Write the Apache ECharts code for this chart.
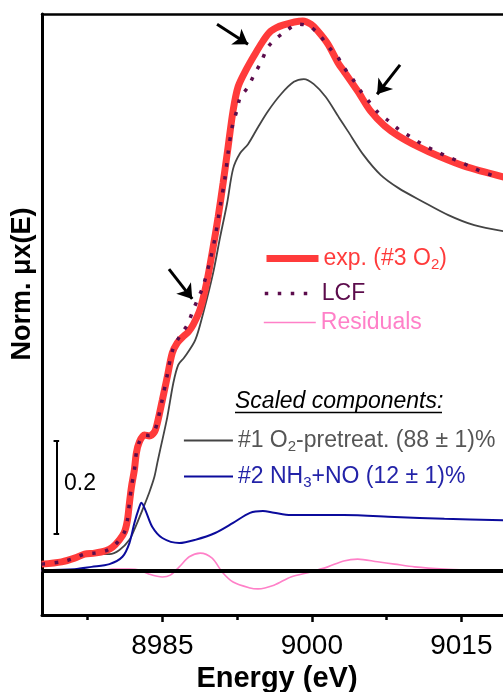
<!DOCTYPE html>
<html>
<head>
<meta charset="utf-8">
<script src="https://cdn.jsdelivr.net/npm/echarts@6/dist/echarts.min.js"></script>
<style>
html,body{margin:0;padding:0;background:#fff;}
#xanes{width:503px;height:692px;}
</style>
</head>
<body>
<div id="xanes"></div>
<script>
// energy (eV), normalized absorption
var expData = [[8972.9,0.015],[8974.9,0.020],[8976.2,0.028],[8977.2,0.037],[8978.2,0.039],[8979.3,0.044],[8980.0,0.052],[8980.7,0.068],[8981.2,0.085],[8981.5,0.111],[8981.7,0.148],[8981.9,0.183],[8982.2,0.221],[8982.4,0.258],[8982.7,0.282],[8983.2,0.297],[8983.7,0.295],[8984.2,0.303],[8984.5,0.323],[8985.0,0.373],[8985.5,0.424],[8986.0,0.476],[8986.5,0.498],[8987.0,0.510],[8987.6,0.522],[8988.1,0.538],[8988.8,0.572],[8989.5,0.635],[8990.1,0.707],[8990.6,0.773],[8991.1,0.847],[8991.6,0.926],[8992.1,1.005],[8992.6,1.057],[8993.4,1.094],[8994.2,1.125],[8995.1,1.157],[8995.9,1.179],[8997.1,1.192],[8999.1,1.201],[8999.9,1.194],[9000.6,1.179],[9001.6,1.151],[9002.7,1.107],[9003.2,1.092],[9004.6,1.048],[9005.9,1.004],[9007.3,0.972],[9008.7,0.950],[9010.7,0.926],[9012.7,0.906],[9015.3,0.884],[9019.3,0.860]];

var lcfData = [[8972.9,0.015],[8974.9,0.020],[8976.2,0.028],[8977.2,0.037],[8978.2,0.039],[8979.3,0.044],[8980.0,0.052],[8980.7,0.068],[8981.2,0.085],[8981.5,0.111],[8981.7,0.148],[8981.9,0.183],[8982.2,0.221],[8982.4,0.258],[8982.7,0.282],[8983.2,0.297],[8983.7,0.296],[8984.2,0.305],[8984.5,0.325],[8985.0,0.375],[8985.5,0.428],[8986.0,0.480],[8986.8,0.515],[8987.5,0.537],[8988.1,0.570],[8988.6,0.596],[8989.1,0.622],[8989.8,0.679],[8990.3,0.729],[8990.8,0.795],[8991.3,0.860],[8991.6,0.913],[8992.0,0.969],[8992.5,1.007],[8992.8,1.033],[8993.6,1.057],[8994.2,1.083],[8994.9,1.111],[8995.6,1.144],[8996.4,1.162],[8997.4,1.179],[8998.6,1.194],[8999.7,1.190],[9000.7,1.172],[9001.7,1.144],[9002.6,1.122],[9003.2,1.100],[9004.1,1.074],[9004.9,1.048],[9005.7,1.026],[9006.6,1.002],[9007.7,0.983],[9008.8,0.963],[9009.9,0.948],[9011.2,0.930],[9012.4,0.917],[9013.7,0.904],[9014.9,0.893],[9016.2,0.880],[9017.4,0.869],[9018.7,0.860]];

var o2Data = [[8972.9,0.011],[8974.9,0.017],[8976.2,0.024],[8977.2,0.035],[8977.9,0.037],[8979.7,0.037],[8980.7,0.046],[8981.7,0.068],[8982.3,0.096],[8983.0,0.133],[8983.7,0.172],[8984.2,0.205],[8984.5,0.236],[8984.8,0.266],[8985.5,0.336],[8986.1,0.410],[8986.6,0.450],[8987.2,0.466],[8988.3,0.504],[8989.1,0.563],[8990.1,0.651],[8990.8,0.729],[8991.5,0.803],[8992.1,0.878],[8992.8,0.912],[8993.6,0.932],[8994.6,0.969],[8995.6,1.004],[8996.9,1.041],[8998.2,1.068],[8999.2,1.074],[9000.2,1.063],[9001.4,1.035],[9002.7,0.991],[9003.6,0.961],[9005.2,0.908],[9006.9,0.865],[9008.7,0.836],[9011.0,0.808],[9013.7,0.777],[9016.3,0.755],[9019.2,0.742]];

var nhData = [[8972.9,0.002],[8976.2,0.004],[8977.9,0.009],[8979.7,0.015],[8981.0,0.031],[8981.7,0.061],[8982.2,0.105],[8982.7,0.140],[8982.9,0.149],[8983.3,0.133],[8984.0,0.096],[8985.0,0.072],[8986.7,0.061],[8988.3,0.068],[8990.3,0.083],[8992.1,0.105],[8993.8,0.127],[8995.1,0.131],[8996.2,0.127],[8997.9,0.122],[9003.2,0.122],[9008.3,0.118],[9013.3,0.114],[9019.3,0.111]];

var resData = [[8972.9,0.000],[8979.0,0.001],[8980.0,0.004],[8981.7,0.004],[8982.7,0.002],[8983.7,-0.007],[8985.0,-0.013],[8985.8,-0.009],[8986.7,0.009],[8987.7,0.031],[8988.8,0.039],[8990.0,0.028],[8991.0,-0.002],[8992.1,-0.024],[8993.8,-0.037],[8994.6,-0.039],[8996.2,-0.031],[8997.9,-0.013],[8999.9,-0.002],[9001.6,0.009],[9003.2,0.022],[9004.6,0.026],[9006.6,0.020],[9008.3,0.015],[9010.3,0.009],[9013.3,0.004],[9015.7,0.002],[9019.3,0.000]];

var majorTicks = [8985, 9000, 9015];
var minorTicks = [8977.5, 8992.5, 9007.5];
// arrows: [start, end(tip)]
var arrows = [
    [[8990.49, 1.194], [8993.6, 1.150]],
    [[9008.85, 1.105], [9006.55, 1.041]],
    [[8985.67, 0.659], [8988.0, 0.594]]
];
var scaleBar = {e: 8974.37, lo: 0.081, hi: 0.284};

var font = "'Liberation Sans', Arial, sans-serif";
var red = '#ff3b3b', purple = '#5c0c4c', pink = '#ff80c8', grey = '#444444', blue = '#0b0b9c';

var myChart = echarts.init(document.getElementById('xanes'));

function oneLegend(name, left, cy, w, lineW, text, color) {
    return {
        data: [name],
        left: left,
        top: cy - 7,
        padding: 0,
        itemWidth: w,
        itemHeight: 14,
        selectedMode: false,
        lineStyle: {width: lineW},
        itemStyle: {opacity: 0, borderWidth: 0},
        formatter: function () { return text; },
        textStyle: {
            rich: {
                t: {fontSize: 23, fontFamily: font, color: color, lineHeight: 28},
                s: {fontSize: 15, fontFamily: font, color: color, lineHeight: 14, verticalAlign: 'bottom'}
            }
        }
    };
}

var arrowLines = arrows.map(function (a) {
    return [{coord: a[0], symbol: 'none'}, {coord: a[1], symbol: 'arrow'}];
});
var w = 0.28;
var barLines = [
    [{coord: [scaleBar.e, scaleBar.lo]}, {coord: [scaleBar.e, scaleBar.hi]}],
    [{coord: [scaleBar.e - w, scaleBar.lo]}, {coord: [scaleBar.e + w, scaleBar.lo]}],
    [{coord: [scaleBar.e - w, scaleBar.hi]}, {coord: [scaleBar.e + w, scaleBar.hi]}]
];

var xMin = 8972.93, xMax = 9019.18;

option = {
    animation: false,
    grid: {left: 42, top: 14, right: 0, bottom: 77, outerBoundsMode: 'none'},
    xAxis: [{
        type: 'value', min: xMin, max: xMax, position: 'bottom',
        axisLine: {onZero: false, lineStyle: {color: '#000', width: 3}},
        axisTick: {customValues: majorTicks, length: 7, lineStyle: {color: '#000', width: 2.5}},
        axisLabel: {customValues: majorTicks, margin: 17, fontSize: 28, fontFamily: font, color: '#000',
            formatter: function (v) { return String(v); }},
        splitLine: {show: false},
        name: 'Energy (eV)', nameLocation: 'middle', nameGap: 48,
        nameTextStyle: {fontSize: 29, fontWeight: 'bold', fontFamily: font, color: '#000', padding: [0, 0, 0, 9]}
    }, {
        type: 'value', min: xMin, max: xMax, position: 'bottom',
        axisLine: {show: false, onZero: false},
        axisTick: {customValues: minorTicks, length: 5, lineStyle: {color: '#000', width: 2.5}},
        axisLabel: {show: false, customValues: minorTicks},
        splitLine: {show: false}
    }, {
        type: 'value', min: xMin, max: xMax, position: 'top',
        axisLine: {onZero: false, lineStyle: {color: '#000', width: 2.5}},
        axisTick: {show: false}, axisLabel: {show: false}, splitLine: {show: false}
    }],
    yAxis: {
        type: 'value', min: -0.0961, max: 1.2162,
        axisLine: {show: true, onZero: false, lineStyle: {color: '#000', width: 3}},
        axisTick: {show: false}, axisLabel: {show: false}, splitLine: {show: false}
    },
    legend: [
        oneLegend('exp', 263, 254, 52, 7, '{t|exp. (#3 O}{s|2}{t|)}', red),
        oneLegend('LCF', 263, 289, 52, 3.5, '{t|LCF}', purple),
        oneLegend('Residuals', 263, 318, 52, 1.6, '{t|Residuals}', pink),
        oneLegend('O2', 183, 436, 49, 1.8, '{t|#1 O}{s|2}{t|-pretreat. (88 \u00b1 1)%}', '#555555'),
        oneLegend('NH3', 183, 472, 49, 2, '{t|#2 NH}{s|3}{t|+NO (12 \u00b1 1)%}', '#2323a8')
    ],
    series: [
        {name: 'O2', type: 'line', data: o2Data, symbol: 'none', smooth: 0.3, z: 2,
            lineStyle: {color: grey, width: 1.8}, itemStyle: {color: grey}},
        {name: 'NH3', type: 'line', data: nhData, symbol: 'none', smooth: 0.3, z: 2,
            lineStyle: {color: blue, width: 2}, itemStyle: {color: blue}},
        {name: 'exp', type: 'line', data: expData, symbol: 'none', smooth: 0.3, z: 3,
            lineStyle: {color: red, width: 7}, itemStyle: {color: red}},
        {name: 'LCF', type: 'line', data: lcfData, symbol: 'none', smooth: 0.3, z: 4,
            lineStyle: {color: purple, width: 3.5, type: [3.5, 9.5]}, itemStyle: {color: purple}},
        {name: 'Residuals', type: 'line', data: resData, symbol: 'none', smooth: 0.3, z: 2,
            lineStyle: {color: pink, width: 1.6}, itemStyle: {color: pink}},
        {name: 'annot', type: 'line', data: [], z: 6,
            markLine: {
                silent: true, symbol: 'none', label: {show: false},
                lineStyle: {color: '#000', width: 4, type: 'solid'},
                data: [{yAxis: 0}]
            }},
        {name: 'arrows', type: 'line', data: [], z: 6,
            markLine: {
                silent: true, symbolSize: 14, label: {show: false},
                lineStyle: {color: '#000', width: 3, type: 'solid'},
                data: arrowLines
            }},
        {name: 'bar', type: 'line', data: [], z: 6,
            markLine: {
                silent: true, symbol: 'none', label: {show: false},
                lineStyle: {color: '#000', width: 2, type: 'solid'},
                data: barLines
            }}
    ],
    graphic: [
        {type: 'text', x: 23, y: 284, rotation: Math.PI / 2,
            style: {text: 'Norm. \u03bcx(E)', font: 'bold 27px ' + font, fill: '#000', align: 'center', verticalAlign: 'middle'}},
        {type: 'text', x: 64, y: 484,
            style: {text: '0.2', font: '23px ' + font, fill: '#000', align: 'left', verticalAlign: 'middle'}},
        {type: 'text', x: 235, y: 402,
            style: {text: 'Scaled components:', font: 'italic 23px ' + font, fill: '#000', align: 'left', verticalAlign: 'middle'}},
        {type: 'line', shape: {x1: 235, y1: 412.5, x2: 442, y2: 412.5}, style: {stroke: '#000', lineWidth: 1.5}}
    ]
};
myChart.setOption(option);
</script>
</body>
</html>
